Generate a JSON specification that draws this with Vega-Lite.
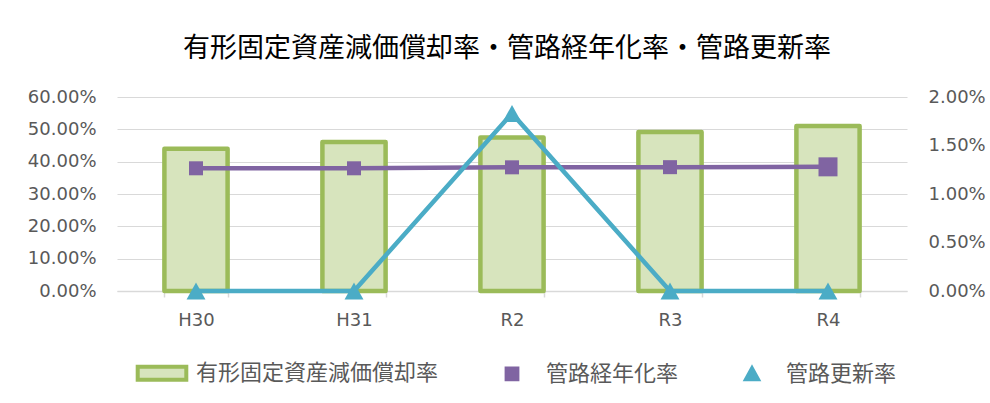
{
  "$schema": "https://vega.github.io/schema/vega-lite/v6.json",
  "autosize": {"type": "none"},
  "width": 790,
  "height": 194,
  "padding": {"left": 117, "top": 97, "right": 83, "bottom": 112},
  "background": "white",
  "title": {
    "text": "有形固定資産減価償却率・管路経年化率・管路更新率",
    "font": "Noto Sans CJK JP",
    "fontSize": 27,
    "fontWeight": "normal",
    "color": "#000000",
    "anchor": "middle",
    "dx": -5,
    "offset": 25
  },
  "config": {
    "view": {"stroke": null},
    "axis": {
      "labelFont": "DejaVu Sans",
      "labelFontSize": 18,
      "labelColor": "#595959",
      "labelOverlap": false
    },
    "legend": {
      "labelFont": "Noto Sans CJK JP",
      "labelFontSize": 22,
      "labelColor": "#595959",
      "labelLimit": 500
    }
  },
  "data": {
    "values": [
      {"year": "H30", "dep": 0.440, "aging": 0.3795, "renewal": 0.0},
      {"year": "H31", "dep": 0.461, "aging": 0.3795, "renewal": 0.0},
      {"year": "R2", "dep": 0.475, "aging": 0.3825, "renewal": 0.0183},
      {"year": "R3", "dep": 0.492, "aging": 0.3830, "renewal": 0.0},
      {"year": "R4", "dep": 0.510, "aging": 0.3840, "renewal": 0.0}
    ]
  },
  "encoding": {
    "x": {
      "field": "year",
      "type": "nominal",
      "sort": null,
      "scale": {"paddingInner": 0.6, "paddingOuter": 0.3},
      "axis": {
        "title": null,
        "labelAngle": 0,
        "domainColor": "#d9d9d9",
        "domainWidth": 1.5,
        "tickColor": "#d9d9d9",
        "tickWidth": 1.5,
        "tickSize": 6,
        "tickBand": "extent",
        "labelPadding": 14,
        "grid": false
      }
    }
  },
  "layer": [
    {
      "layer": [
        {
          "mark": {"type": "bar", "strokeWidth": 4.5, "strokeJoin": "round"},
          "encoding": {
            "y": {
              "field": "dep",
              "type": "quantitative",
              "scale": {"domain": [0, 0.6], "nice": false},
              "axis": {
                "title": null,
                "orient": "left",
                "format": ".2%",
                "values": [0, 0.1, 0.2, 0.3, 0.4, 0.5, 0.6],
                "tickCount": 10,
                "domain": false,
                "ticks": false,
                "labelPadding": 21,
                "grid": true,
                "gridColor": "#d9d9d9",
                "gridWidth": 1.2
              }
            },
            "fill": {
              "datum": "有形固定資産減価償却率",
              "scale": {
                "domain": ["有形固定資産減価償却率", "管路経年化率", "管路更新率"],
                "range": ["#d7e4bd", "#8064a2", "#4bacc6"]
              },
              "legend": {
                "title": null,
                "orient": "none",
                "legendX": 16,
                "legendY": 247,
                "direction": "horizontal",
                "symbolSize": 2916,
                "symbolStrokeWidth": 4,
                "symbolOpacity": 1,
                "labelOffset": 5,
                "columnPadding": 44
              }
            },
            "stroke": {
              "datum": "有形固定資産減価償却率",
              "scale": {
                "domain": ["有形固定資産減価償却率", "管路経年化率", "管路更新率"],
                "range": ["#9bbb59", "#8064a2", "#4bacc6"]
              },
              "legend": {
                "title": null,
                "orient": "none",
                "legendX": 16,
                "legendY": 247,
                "direction": "horizontal",
                "symbolSize": 2916,
                "symbolStrokeWidth": 4,
                "symbolOpacity": 1,
                "labelOffset": 5,
                "columnPadding": 44
              }
            }
          }
        },
        {
          "mark": {"type": "line", "strokeWidth": 4.5, "color": "#8064a2"},
          "encoding": {
            "y": {"field": "aging", "type": "quantitative"}
          }
        },
        {
          "mark": {"type": "point", "filled": true, "opacity": 1, "color": "#8064a2", "strokeWidth": 0},
          "encoding": {
            "y": {"field": "aging", "type": "quantitative"},
            "shape": {
              "datum": "管路経年化率",
              "scale": {
                "domain": ["有形固定資産減価償却率", "管路経年化率", "管路更新率"],
                "range": ["M-0.9,-0.24H0.9V0.24H-0.9Z", "M-0.2,-0.2H0.2V0.2H-0.2Z", "M0,-0.2L0.22,0.2H-0.22Z"]
              },
              "legend": {
                "title": null,
                "orient": "none",
                "legendX": 16,
                "legendY": 247,
                "direction": "horizontal",
                "symbolSize": 2916,
                "symbolStrokeWidth": 4,
                "symbolOpacity": 1,
                "labelOffset": 5,
                "columnPadding": 44
              }
            },
            "size": {"condition": {"test": "datum.year === 'R4'", "value": 9025}, "value": 4900}
          }
        }
      ]
    },
    {
      "layer": [
        {
          "mark": {"type": "line", "strokeWidth": 4.5, "color": "#4bacc6"},
          "encoding": {
            "y": {
              "field": "renewal",
              "type": "quantitative",
              "scale": {"domain": [0, 0.02], "nice": false},
              "axis": {
                "title": null,
                "orient": "right",
                "format": ".2%",
                "values": [0, 0.005, 0.01, 0.015, 0.02],
                "tickCount": 10,
                "domain": false,
                "ticks": false,
                "grid": false,
                "labelPadding": 21
              }
            }
          }
        },
        {
          "mark": {"type": "point", "filled": true, "opacity": 1, "size": 7400, "color": "#4bacc6", "strokeWidth": 0},
          "encoding": {
            "y": {"field": "renewal", "type": "quantitative"},
            "shape": {"datum": "管路更新率"}
          }
        }
      ]
    }
  ],
  "resolve": {"scale": {"y": "independent"}}
}
